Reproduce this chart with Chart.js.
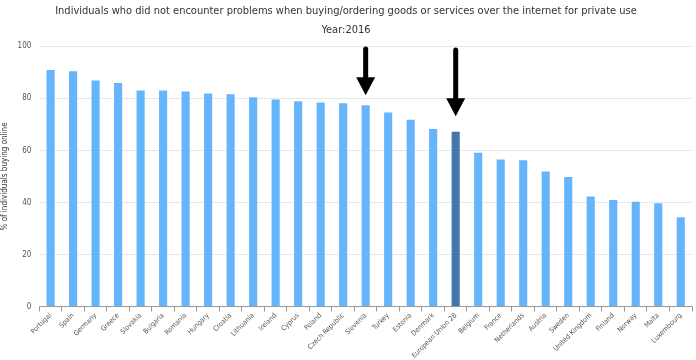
<!DOCTYPE html>
<html>
<head>
<meta charset="utf-8">
<script src="https://cdn.jsdelivr.net/npm/chart.js@4"></script>
<style>
html,body{margin:0;padding:0;background:#fff;}
#wrap{width:696px;height:360px;position:relative;}
</style>
</head>
<body>
<div id="wrap"><canvas id="c" width="696" height="360"></canvas></div>
<script>
const categories = ["Portugal","Spain","Germany","Greece","Slovakia","Bulgaria","Romania","Hungary","Croatia","Lithuania","Ireland","Cyprus","Poland","Czech Republic","Slovenia","Turkey","Estonia","Denmark","European Union 28","Belgium","France","Netherlands","Austria","Sweden","United Kingdom","Finland","Norway","Malta","Luxembourg"];
const values = [91.3,90.8,87.3,86.3,83.4,83.4,83.0,82.3,82.0,80.8,80.0,79.3,78.8,78.5,77.8,75.0,72.2,68.6,67.6,59.5,56.9,56.6,52.3,50.2,42.7,41.3,40.7,40.1,34.7];
const highlighted = ["European Union 28"];
const yTicks = [0,20,40,60,80,100];
// arrow annotations: category, start value, tip value
const arrowCats = ["Slovenia","European Union 28"];
const arrowFrom = [99.8,99.4];
const arrowTo = [81.2,73.1];

const barColors = categories.map(c => highlighted.includes(c) ? '#4178a8' : '#64b5fb');

const arrowPlugin = {
  id:'arrows',
  afterDatasetsDraw(chart){
    const ctx = chart.ctx, xs = chart.scales.x, ys = chart.scales.y;
    ctx.save();
    ctx.fillStyle = '#000';
    ctx.strokeStyle = '#000';
    arrowCats.forEach((cat,i)=>{
      const x = xs.getPixelForValue(categories.indexOf(cat));
      const y0 = ys.getPixelForValue(arrowFrom[i]);
      const y1 = ys.getPixelForValue(arrowTo[i]);
      const headH = 18, headW = 9.5;
      ctx.lineWidth = 5;
      ctx.lineCap = 'round';
      ctx.beginPath();
      ctx.moveTo(x, y0 + 2);
      ctx.lineTo(x, y1 - headH + 2);
      ctx.stroke();
      ctx.beginPath();
      ctx.moveTo(x - headW, y1 - headH);
      ctx.lineTo(x + headW, y1 - headH);
      ctx.lineTo(x, y1);
      ctx.closePath();
      ctx.fill();
    });
    ctx.restore();
  }
};

new Chart(document.getElementById('c'), {
  type:'bar',
  data:{
    labels:categories,
    datasets:[{
      data:values,
      backgroundColor:barColors,
      borderColor:'rgba(255,255,255,0.45)',
      borderWidth:1,
      barPercentage:0.9,
      categoryPercentage:0.5
    }]
  },
  options:{
    responsive:false,
    animation:false,
    devicePixelRatio:1,
    layout:{padding:{left:0,right:4,top:0,bottom:0}},
    plugins:{
      legend:{display:false},
      tooltip:{enabled:false},
      title:{
        display:true,
        text:'Individuals who did not encounter problems when buying/ordering goods or services over the internet for private use',
        color:'#333333',
        font:{family:'"DejaVu Sans Condensed", sans-serif',size:11,weight:'normal'},
        padding:{top:5,bottom:5}
      },
      subtitle:{
        display:true,
        text:'Year:2016',
        color:'#333333',
        font:{family:'"DejaVu Sans Condensed", sans-serif',size:11,weight:'normal'},
        padding:{top:0,bottom:10}
      }
    },
    scales:{
      x:{
        offset:true,
        grid:{display:true,drawOnChartArea:false,drawTicks:true,tickLength:5,color:'#999999',offset:true},
        border:{display:true,color:'#999999',width:1},
        ticks:{
          color:'#555555',
          font:{family:'"DejaVu Sans Condensed", sans-serif',size:7},
          maxRotation:45,minRotation:45,autoSkip:false,padding:0
        }
      },
      y:{
        min:0,max:100,
        afterBuildTicks(axis){ axis.ticks = yTicks.map(v=>({value:v})); },
        grid:{color:'#e6e6e6',drawTicks:false},
        border:{display:false},
        ticks:{color:'#555555',font:{family:'"DejaVu Sans Condensed", sans-serif',size:8},padding:8},
        title:{display:true,text:'% of individuals buying online',color:'#333333',
          font:{family:'"DejaVu Sans Condensed", sans-serif',size:8},padding:{top:0,bottom:0}}
      }
    }
  },
  plugins:[arrowPlugin]
});
</script>
</body>
</html>
